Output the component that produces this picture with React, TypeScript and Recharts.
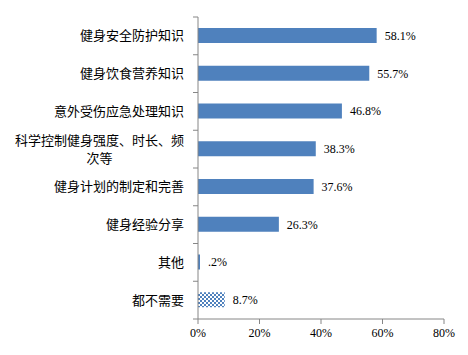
import { BarChart, Bar, XAxis, YAxis, Cell, LabelList } from "recharts";

const categories = [
  "健身安全防护知识",
  "健身饮食营养知识",
  "意外受伤应急处理知识",
  "科学控制健身强度、时长、频|次等",
  "健身计划的制定和完善",
  "健身经验分享",
  "其他",
  "都不需要",
];
const values = [58.1, 55.7, 46.8, 38.3, 37.6, 26.3, 0.2, 8.7];
const xTicks = [0, 20, 40, 60, 80];

const data = categories.map((name, i) => ({ name, value: values[i] }));

const W = 468;
const H = 355;
const M = { top: 17, right: 24, bottom: 6, left: 0 };
const Y_W = 198;
const X_H = 30;
const BAND = (H - M.top - M.bottom - X_H) / categories.length;
const AXIS_X = M.left + Y_W;
const AXIS = "#868686";
const BLUE = "#4F81BD";
const CJK = "'Noto Sans CJK SC', 'Noto Sans', sans-serif";
const SERIF = "'Liberation Serif', 'Times New Roman', serif";

function CategoryTick(props: any) {
  const { y, payload, index } = props;
  const lines: string[] = String(payload.value).split("|");
  const fs = 13;
  const right = AXIS_X - 14;
  const top = y - BAND / 2;
  const mid = right - (lines[0].length * fs) / 2;
  return (
    <g>
      <line x1={AXIS_X - 5} x2={AXIS_X} y1={top} y2={top} stroke={AXIS} />
      {index === categories.length - 1 && (
        <line x1={AXIS_X - 5} x2={AXIS_X} y1={top + BAND} y2={top + BAND} stroke={AXIS} />
      )}
      {lines.length === 1 ? (
        <text x={right} y={y} dy="0.35em" textAnchor="end" fontSize={fs} fontFamily={CJK} fill="#000">
          {lines[0]}
        </text>
      ) : (
        <text x={mid} y={y - 9} textAnchor="middle" fontSize={fs} fontFamily={CJK} fill="#000">
          {lines.map((l, i) => (
            <tspan key={i} x={mid} dy={i === 0 ? "0.35em" : 18}>
              {l}
            </tspan>
          ))}
        </text>
      )}
    </g>
  );
}

const pct = (v: any) => String(v).replace(/^0\./, ".") + "%";

export default function App() {
  return (
    <div style={{ position: "absolute", left: 0, top: 0, background: "#fff", fontFamily: SERIF }}>
      <BarChart width={W} height={H} data={data} layout="vertical" margin={M}>
        <defs>
          <pattern id="checker" width="4" height="4" patternUnits="userSpaceOnUse">
            <rect width="4" height="4" fill="#fff" />
            <rect width="2" height="2" fill={BLUE} />
            <rect x="2" y="2" width="2" height="2" fill={BLUE} />
          </pattern>
        </defs>
        <XAxis
          type="number"
          domain={[0, 80]}
          ticks={xTicks}
          tickFormatter={(v) => `${v}%`}
          height={X_H}
          stroke={AXIS}
          tickSize={5}
          tickMargin={4}
          tick={{ fill: "#000", fontSize: 12, fontFamily: SERIF }}
          interval={0}
        />
        <YAxis
          type="category"
          dataKey="name"
          width={Y_W}
          stroke={AXIS}
          tickLine={false}
          tick={<CategoryTick />}
          interval={0}
        />
        <Bar dataKey="value" barSize={15} minPointSize={2} isAnimationActive={false}>
          {data.map((d, i) => (
            <Cell key={d.name} fill={i === data.length - 1 ? "url(#checker)" : BLUE} />
          ))}
          <LabelList
            dataKey="value"
            position="right"
            offset={8}
            formatter={pct}
            fill="#000"
            fontSize={12}
            fontFamily={SERIF}
          />
        </Bar>
      </BarChart>
    </div>
  );
}
